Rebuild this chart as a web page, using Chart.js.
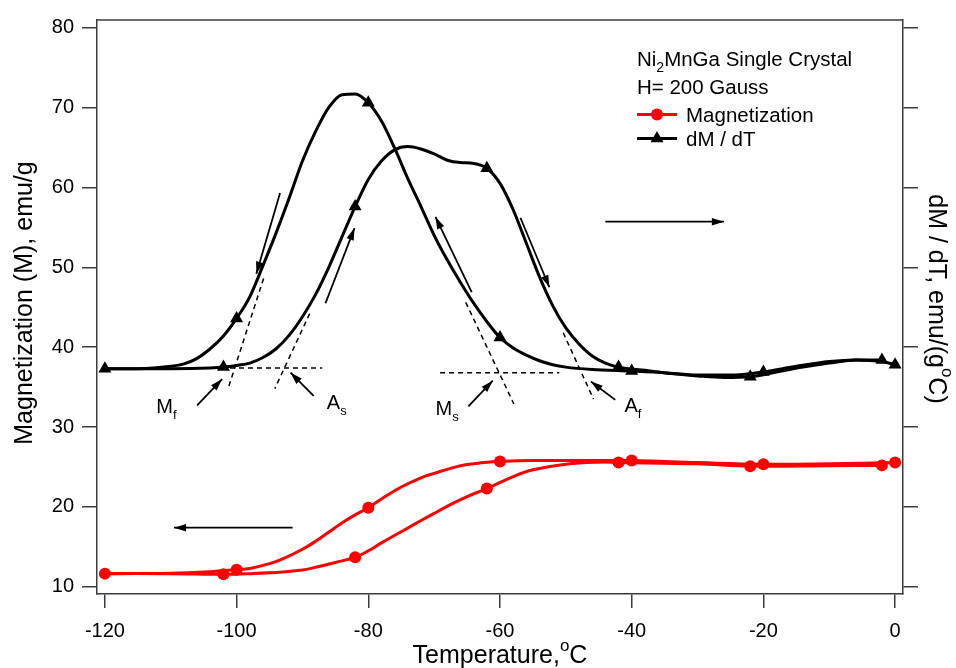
<!DOCTYPE html>
<html>
<head>
<meta charset="utf-8">
<script src="https://cdn.jsdelivr.net/npm/chart.js@4.4.1/dist/chart.umd.min.js"></script>
<style>
  body { margin: 0; background: #fff; }
  #wrap { width: 956px; height: 668px; }
</style>
</head>
<body>
<div id="wrap"><canvas id="mtChart" width="956" height="668"></canvas></div>
<script>
// Ni2MnGa single crystal, H = 200 G
// magnetization, branch A (markers every 20 deg from -120) and branch B (from -102)
const tempMA = [-120, -110, -104, -100, -98, -95, -93, -90, -88, -86, -84, -82, -80, -78, -75, -72, -70, -67, -65, -62, -60, -55, -50, -40, -30, -20, -10, 0];
const magA   = [11.65, 11.7, 11.9, 12.15, 12.3, 12.9, 13.5, 14.7, 15.7, 16.85, 18.0, 19.0, 19.9, 21.0, 22.5, 23.65, 24.2, 24.95, 25.3, 25.6, 25.7, 25.8, 25.8, 25.8, 25.55, 25.35, 25.4, 25.55];
const tempMB = [-120, -110, -102, -98, -93, -90, -88, -85, -82, -80, -78, -75, -72, -70, -67, -65, -62, -58, -55, -50, -45, -42, -30, -22, -10, -2];
const magB   = [11.65, 11.65, 11.57, 11.65, 11.85, 12.1, 12.45, 13.05, 13.7, 14.5, 15.5, 16.9, 18.3, 19.2, 20.5, 21.3, 22.3, 23.8, 24.65, 25.35, 25.6, 25.56, 25.4, 25.1, 25.15, 25.2];

// dM/dT, branch A (sharp peak) and branch B (broad peak)
const tempDA = [-120, -115, -110, -108, -106, -104, -102, -100, -98, -96, -94, -92, -90, -88, -86, -84, -82, -80, -78, -76, -74, -72, -70, -68, -66, -64, -62, -60, -58, -56, -54, -52, -50, -46, -40, -35, -30, -25, -20, -15, -10, -6, -2, 0];
const dmdtA  = [37.3, 37.3, 37.6, 37.9, 38.6, 39.8, 41.4, 43.6, 46.3, 50.2, 54.3, 58.7, 63.3, 67.0, 70.0, 71.6, 71.7, 70.6, 68.3, 64.9, 61.1, 57.6, 54.0, 50.9, 48.1, 45.5, 43.2, 41.2, 39.9, 39.0, 38.3, 37.8, 37.5, 37.2, 37.0, 36.8, 36.5, 36.5, 36.9, 37.6, 38.2, 38.4, 38.2, 37.8];
const tempDB = [-120, -110, -104, -102, -100, -98, -96, -94, -92, -90, -88, -86, -84, -82, -80, -78, -76, -74, -72, -70, -68, -66, -64, -62, -60, -58, -56, -54, -52, -50, -48, -46, -44, -42, -38, -34, -30, -26, -22, -18, -14, -10, -6, -2];
const dmdtB  = [37.3, 37.3, 37.4, 37.5, 37.7, 38.0, 38.7, 39.8, 41.5, 43.8, 46.6, 50.0, 53.8, 57.6, 61.0, 63.3, 64.7, 65.1, 64.8, 64.2, 63.4, 63.1, 63.0, 62.4, 60.5, 57.2, 53.0, 48.8, 45.2, 42.4, 40.4, 38.9, 38.0, 37.5, 37.1, 36.7, 36.4, 36.2, 36.3, 36.9, 37.5, 38.0, 38.4, 38.4];

// temperatures that carry a marker on each branch
const markA = [-120, -100, -80, -60, -40, -20, 0];
const markB = [-102, -82, -62, -42, -22, -2];

const xTicks = [-120, -100, -80, -60, -40, -20, 0];
const yTicks = [10, 20, 30, 40, 50, 60, 70, 80];

// tangent construction lines [T1, v1, T2, v2]
const tangents = [
  [-95.9, 48.6, -101.3, 34.8],
  [-88.9, 44.2, -94.2, 34.8],
  [-65.2, 45.6, -57.9, 32.9],
  [-50.4, 41.8, -45.8, 33.5],
  [-101, 37.4, -87, 37.4],
  [-69.1, 36.8, -51, 36.8]
];
// arrows, tail -> head
const arrows = [
  [-93.4, 59.3, -97.0, 49.2],
  [-86.5, 45.5, -82.1, 54.9],
  [-64.3, 46.9, -69.8, 56.3],
  [-56.9, 56.2, -52.5, 47.5],
  [-44.0, 55.7, -26.0, 55.7],
  [-91.5, 17.4, -109.5, 17.4],
  [-106.0, 32.7, -102.2, 36.0],
  [-88.3, 33.9, -91.8, 36.8],
  [-64.8, 32.6, -61.1, 35.8],
  [-42.5, 33.4, -46.2, 35.7]
];
// transition temperature labels: main letter, subscript, T, value
const tempLabels = [
  ['M', 'f', -112.2, 31.75],
  ['A', 's', -86.3, 32.2],
  ['M', 's', -69.8, 31.5],
  ['A', 'f', -41.1, 31.9]
];

const FONT = '"Liberation Sans", Arial, sans-serif';
const AXIS = '#3c3c3c';

function pts(xs, ys) {
  return xs.map((t, i) => ({ x: t, y: ys[i] }));
}

// draws text made of [string, mode] pieces, mode '' | 'sub' | 'sup'
function richText(ctx, parts, x, y, size, align) {
  const small = Math.round(size * 0.67);
  let total = 0;
  parts.forEach(([t, m]) => {
    ctx.font = (m ? small : size) + 'px ' + FONT;
    total += ctx.measureText(t).width;
  });
  let cx = align === 'center' ? x - total / 2 : x;
  ctx.textAlign = 'left';
  ctx.textBaseline = 'alphabetic';
  parts.forEach(([t, m]) => {
    ctx.font = (m ? small : size) + 'px ' + FONT;
    const dy = m === 'sub' ? size * 0.3 : (m === 'sup' ? -size * 0.5 : 0);
    ctx.fillText(t, cx, y + dy);
    cx += ctx.measureText(t).width;
  });
}

function arrowHead(ctx, x1, y1, x2, y2, len, half) {
  const a = Math.atan2(y2 - y1, x2 - x1);
  ctx.beginPath();
  ctx.moveTo(x2, y2);
  ctx.lineTo(x2 - len * Math.cos(a) + half * Math.sin(a), y2 - len * Math.sin(a) - half * Math.cos(a));
  ctx.lineTo(x2 - len * Math.cos(a) - half * Math.sin(a), y2 - len * Math.sin(a) + half * Math.cos(a));
  ctx.closePath();
  ctx.fill();
}

const decorPlugin = {
  id: 'decor',
  afterDatasetsDraw(chart) {
    const ctx = chart.ctx;
    const xs = chart.scales.x, ys = chart.scales.y;
    const ca = chart.chartArea;
    const px = v => xs.getPixelForValue(v);
    const py = v => ys.getPixelForValue(v);
    ctx.save();

    // top edge of the frame
    ctx.strokeStyle = AXIS;
    ctx.lineWidth = 1.5;
    ctx.beginPath();
    ctx.moveTo(ca.left, ca.top);
    ctx.lineTo(ca.right, ca.top);
    ctx.stroke();

    ctx.strokeStyle = '#000';
    ctx.fillStyle = '#000';

    // dashed tangents
    ctx.lineWidth = 1.5;
    ctx.setLineDash([5, 4]);
    tangents.forEach(([a, b, c, d]) => {
      ctx.beginPath();
      ctx.moveTo(px(a), py(b));
      ctx.lineTo(px(c), py(d));
      ctx.stroke();
    });
    ctx.setLineDash([]);

    // arrows
    ctx.lineWidth = 1.8;
    arrows.forEach(([a, b, c, d]) => {
      const x1 = px(a), y1 = py(b), x2 = px(c), y2 = py(d);
      ctx.beginPath();
      ctx.moveTo(x1, y1);
      ctx.lineTo(x2, y2);
      ctx.stroke();
      arrowHead(ctx, x1, y1, x2, y2, 12, 3.8);
    });

    // Mf, As, Ms, Af
    tempLabels.forEach(([m, s, t, v]) => {
      richText(ctx, [[m, ''], [s, 'sub']], px(t), py(v), 20, 'left');
    });

    // legend block
    const lx = ca.left + 540;
    richText(ctx, [['Ni', ''], ['2', 'sub'], ['MnGa Single Crystal', '']], lx, 65.5, 20.5, 'left');
    richText(ctx, [['H= 200 Gauss', '']], lx, 93.5, 20.5, 'left');
    const rows = [
      ['Magnetization', 'red', 'circle', 6, 114.5],
      ['dM / dT', '#000', 'triangle', 7.5, 138.5]
    ];
    rows.forEach(([label, col, style, r, y]) => {
      ctx.strokeStyle = col;
      ctx.fillStyle = col;
      ctx.lineWidth = 3;
      ctx.beginPath();
      ctx.moveTo(lx, y);
      ctx.lineTo(lx + 40, y);
      ctx.stroke();
      Chart.helpers.drawPoint(ctx, { pointStyle: style, radius: r, borderWidth: 0 }, lx + 20, y);
      ctx.fillStyle = '#000';
      richText(ctx, [[label, '']], lx + 49, y + 7.5, 20.5, 'left');
    });

    // axis titles
    ctx.fillStyle = '#000';
    richText(ctx, [['Temperature,', ''], ['o', 'sup'], ['C', '']], (ca.left + ca.right) / 2, 663, 25, 'center');

    ctx.save();
    ctx.translate(32, 303);
    ctx.rotate(-Math.PI / 2);
    richText(ctx, [['Magnetization (M), emu/g', '']], 0, 0, 25, 'center');
    ctx.restore();

    ctx.save();
    ctx.translate(929, 299);
    ctx.rotate(Math.PI / 2);
    richText(ctx, [['dM / dT, emu/(g', ''], ['o', 'sup'], ['C)', '']], 0, 0, 25, 'center');
    ctx.restore();

    ctx.restore();
  }
};

function markerRadius(marks, r) {
  return c => (c.raw && marks.includes(c.raw.x)) ? r : 0;
}

function curve(data, color, style, marks, r, smooth) {
  const ds = {
    data: data,
    borderColor: color,
    backgroundColor: color,
    borderWidth: 3,
    pointStyle: style,
    pointRadius: markerRadius(marks, r),
    pointHoverRadius: 0,
    pointBorderWidth: 0,
    fill: false
  };
  if (smooth) ds.tension = 0.4;
  else ds.cubicInterpolationMode = 'monotone';
  return ds;
}

const tickFont = { family: FONT, size: 20 };

new Chart(document.getElementById('mtChart'), {
  type: 'line',
  data: {
    datasets: [
      curve(pts(tempMA, magA), 'red', 'circle', markA, 6, true),
      curve(pts(tempMB, magB), 'red', 'circle', markB, 6, true),
      curve(pts(tempDA, dmdtA), '#000', 'triangle', markA, 7.5, false),
      curve(pts(tempDB, dmdtB), '#000', 'triangle', markB, 7.5, false)
    ]
  },
  options: {
    responsive: false,
    animation: false,
    events: [],
    layout: { padding: { top: 13, left: 0, right: 0, bottom: 0 } },
    plugins: { legend: { display: false }, tooltip: { enabled: false } },
    scales: {
      x: {
        type: 'linear',
        min: -121.2,
        max: 1.2,
        afterBuildTicks: s => { s.ticks = xTicks.map(v => ({ value: v })); },
        afterFit: s => { s.height = 74; },
        ticks: { font: tickFont, color: '#000', padding: 11, maxRotation: 0 },
        grid: { drawOnChartArea: false, tickLength: 14, color: AXIS, lineWidth: 1.5 },
        border: { color: AXIS, width: 1.5 }
      },
      y: {
        position: 'left',
        min: 9.1,
        max: 80.95,
        afterBuildTicks: s => { s.ticks = yTicks.map(v => ({ value: v })); },
        afterFit: s => { s.width = 97; },
        ticks: { font: tickFont, color: '#000', padding: 8 },
        grid: { drawOnChartArea: false, tickLength: 15, color: AXIS, lineWidth: 1.5 },
        border: { color: AXIS, width: 1.5 }
      },
      y2: {
        position: 'right',
        min: 9.1,
        max: 80.95,
        afterBuildTicks: s => { s.ticks = yTicks.map(v => ({ value: v })); },
        afterFit: s => { s.width = 53; },
        ticks: { font: tickFont, callback: () => '' },
        grid: { drawOnChartArea: false, tickLength: 15, color: AXIS, lineWidth: 1.5 },
        border: { color: AXIS, width: 1.5 }
      }
    }
  },
  plugins: [decorPlugin]
});
</script>
</body>
</html>
